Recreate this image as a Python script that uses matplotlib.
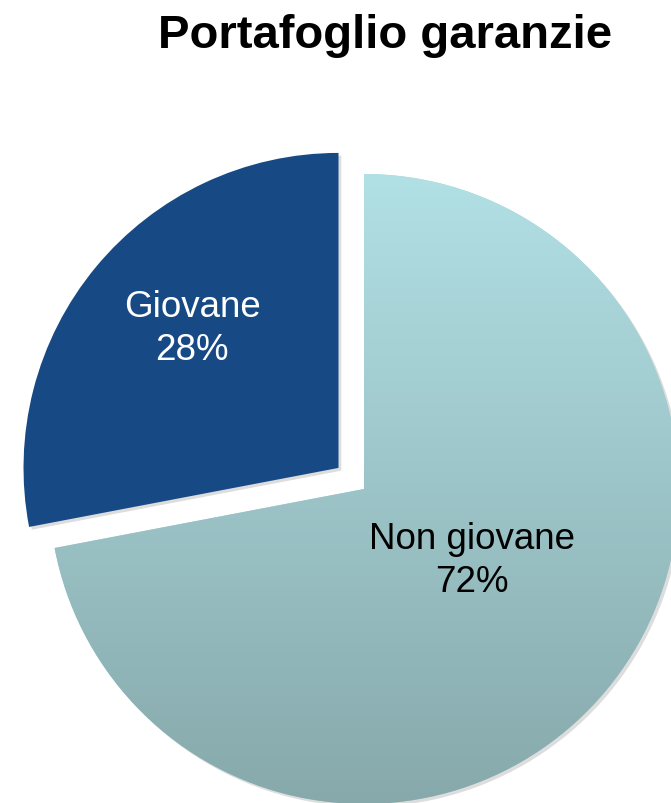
import numpy as np
import matplotlib
matplotlib.use("Agg")
import matplotlib.pyplot as plt
import matplotlib.patheffects as pe
from matplotlib.colors import LinearSegmentedColormap

plt.rcParams['font.family'] = ['Liberation Sans', 'DejaVu Sans']

# Dati del grafico
titolo = "Portafoglio garanzie"
categorie = ["Non giovane", "Giovane"]
quote = [72, 28]

fig = plt.figure(figsize=(6.71, 8.04), dpi=100)
ax = fig.add_axes([0, 0, 1, 1])

wedges, _ = ax.pie(quote, startangle=90, counterclock=False,
                   explode=[0, 0.105], radius=1.0,
                   colors=["#a9d6da", "#174a84"],
                   wedgeprops=dict(linewidth=0))

# Ombra leggera sotto gli spicchi
for w in wedges:
    w.set_path_effects([pe.SimplePatchShadow(offset=(2, -2), alpha=0.2,
                                             shadow_rgbFace="#555555"),
                        pe.Normal()])

# Sfumatura verticale sullo spicchio "Non giovane"
grad = LinearSegmentedColormap.from_list("acqua", ["#87a9ab", "#b1e0e5"])
yy = np.linspace(0, 1, 256).reshape(-1, 1)
img = ax.imshow(yy, cmap=grad, origin="lower", extent=[-1, 1, -1, 1],
                aspect="auto", zorder=wedges[0].get_zorder() + 0.1)
img.set_clip_path(wedges[0])

# Etichette
ax.text(-0.546, 0.51, f"{categorie[1]}\n{quote[1]}%", color="white",
        fontsize=26.5, ha="center", va="center", linespacing=1.3, zorder=5)
ax.text(0.343, -0.225, f"{categorie[0]}\n{quote[0]}%", color="black",
        fontsize=26.5, ha="center", va="center", linespacing=1.3, zorder=5)

ax.set_xlim(-364 / 315, (671 - 364) / 315)
ax.set_ylim(-(804 - 490) / 315, 490 / 315)
ax.set_aspect("auto")
ax.axis("off")

fig.text(385 / 671, 1 - 36 / 804, titolo, fontsize=34, fontweight="bold",
         ha="center", va="center")

fig.savefig("out.png", dpi=100)
